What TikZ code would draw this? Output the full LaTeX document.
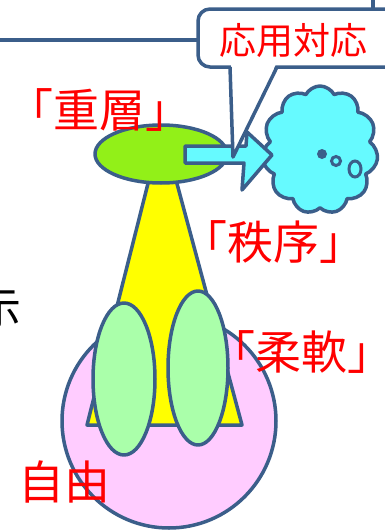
\documentclass[tikz,border=0pt]{standalone}
\usepackage{fontspec}
\newfontfamily\cjk{Noto Sans CJK JP}
\usetikzlibrary{shapes.geometric,shapes.symbols}
\definecolor{navy}{RGB}{59,94,138}
\definecolor{lime}{RGB}{146,240,24}
\definecolor{pinkf}{RGB}{255,204,255}
\definecolor{lgreen}{RGB}{170,255,170}
\definecolor{cyanf}{RGB}{102,250,255}
\definecolor{yel}{RGB}{255,255,0}
\tikzset{
  outl/.style={draw=navy, line width=3.5pt, line join=round},
  redlab/.style={text=red, font=\cjk\fontsize{46}{50}\selectfont, inner sep=0pt},
  ell/.style={ellipse, outl, inner sep=0pt}
}
\begin{document}
\begin{tikzpicture}[x=1pt,y=-1pt]
\useasboundingbox (0,0) rectangle (385,530);
\clip (0,0) rectangle (385,530);
% connecting lines
\coordinate (lstart) at (0,40);
\coordinate (lend) at (200,40);
\draw[navy, line width=3.5pt] (lstart) -- (lend);
\coordinate (vtop) at (373,0);
\coordinate (vbot) at (373,12);
\draw[navy, line width=3.5pt] (vtop) -- (vbot);
% pink circle
\node[circle, outl, fill=pinkf, minimum size=214pt, inner sep=0pt] (free) at (169,421) {};
% yellow triangle
\draw[outl, fill=yel] (162,128) -- (87,425) -- (242,425) -- cycle;
% top ellipse
\node[ell, fill=lime, minimum width=132pt, minimum height=58pt] (top) at (161,154) {};
% light green ellipses
\node[ell, fill=lgreen, minimum width=62pt, minimum height=152pt] (le) at (124,379) {};
\node[ell, fill=lgreen, minimum width=60pt, minimum height=154pt] (re) at (198,368) {};
% cloud
\node[cloud, outl, fill=cyanf, cloud puffs=11, cloud puff arc=125, cloud ignores aspect, minimum width=116pt, minimum height=128pt] (cl) at (320,150) {};
\fill[navy] (322,154) circle (5pt);
\draw[navy, line width=3pt, fill=cyanf] (336,161) circle (4.5pt);
\draw[navy, line width=3pt, fill=cyanf] (355,169) ellipse (6pt and 8pt);
% arrow
\draw[outl, fill=cyanf] (185,146) -- (246,146) -- (247,132) -- (272,155) -- (242,190) -- (244,163) -- (185,163) -- cycle;
% callout
\draw[outl, fill=white, rounded corners=12pt] (198,9) rectangle (420,67);
\fill[white] (231,64) -- (276,64) -- (233,157) -- cycle;
\coordinate (pl) at (230,67);
\coordinate (pr) at (277,67);
\coordinate (tip) at (233,157);
\draw[navy, line width=3.5pt, line join=round] (pl) -- (tip) -- (pr);
\node[text=red, font=\cjk\fontsize{37}{40}\selectfont, inner sep=0pt] (ouyou) at (293,41) {応用対応};
% labels
\node[redlab] (juso) at (100,110) {「重層」};
\node[redlab] (chitsujo) at (273,242) {「秩序」};
\node[redlab] (junan) at (301,352) {「柔軟」};
\node[redlab] (jiyu) at (65,482) {自由};
\node[text=black, font=\cjk\fontsize{44}{48}\selectfont, inner sep=0pt] (shi) at (0,309) {示};
\end{tikzpicture}
\end{document}
